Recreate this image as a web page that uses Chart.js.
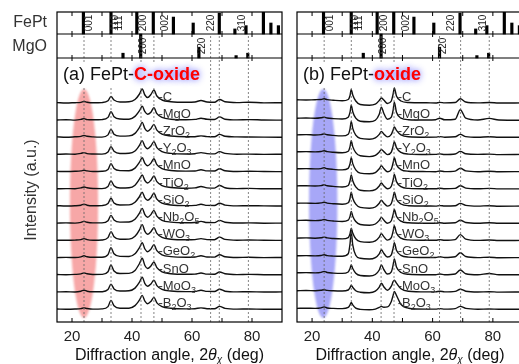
<!DOCTYPE html>
<html>
<head>
<meta charset="utf-8">
<script src="https://cdn.jsdelivr.net/npm/chart.js@4.4.1/dist/chart.umd.min.js"></script>
<style>
html, body { margin: 0; padding: 0; background: #fff; overflow: hidden; }
#wrap { position: relative; width: 519px; height: 364px; overflow: hidden; }
#chartA { position: absolute; left: 0; top: 0; }
#chartB { position: absolute; left: 284px; top: 0; }
</style>
</head>
<body>
<div id="wrap">
  <canvas id="chartA" width="300" height="364"></canvas>
  <canvas id="chartB" width="260" height="364"></canvas>
</div>
<script>
const FONT = '"Liberation Sans", Arial, Helvetica, sans-serif';

// samples, top trace first
const samples = ['C', 'MgO', 'ZrO2', 'Y2O3', 'MnO', 'TiO2', 'SiO2', 'Nb2O5', 'WO3', 'GeO2', 'SnO', 'MoO3', 'B2O3'];

// 2theta grid (deg) the traces were read on
const twoThetaA = [15, 18, 21, 23, 24, 25, 27, 30, 32, 33, 34, 36, 39, 41, 42.5, 43.4, 44.3, 45.2, 46.3, 47.3, 48.3, 50, 53, 58, 61, 63, 65, 67.5, 69.2, 71, 75, 79, 84, 90];
const twoThetaB = [15, 18, 21, 23, 24, 25, 27, 30, 32, 32.6, 33, 33.5, 34.5, 36, 39, 41, 42.3, 43, 43.8, 45, 46.3, 46.9, 47.3, 48, 49.5, 52, 58, 61, 62.4, 64, 67.5, 69.2, 71, 75, 78.8, 82, 90];

// (a) FePt-C-oxide, intensity above each trace baseline (a.u.)
const aC     = [0.4, 0.0, 0.3, 0.6, 1.5, 0.8, 0.2, 0.4, 2.2, 6.5, 3.0, 1.0, 1.2, 3.5, 9.0, 14.0, 8.0, 5.5, 8.5, 13.0, 7.0, 3.0, 1.3, 0.7, 1.0, 2.5, 1.0, 0.8, 3.5, 1.2, 0.4, 0.8, 0.1, 0.3];
const aMgO   = [0.2, 0.5, 0.1, 0.8, 1.6, 0.6, 0.4, 0.6, 2.8, 8.5, 3.5, 1.2, 1.0, 3.8, 9.5, 14.0, 8.5, 6.0, 8.0, 12.5, 6.5, 2.8, 1.0, 0.5, 0.8, 2.0, 0.9, 0.7, 3.3, 1.0, 0.3, 0.6, 0.2, 0.1];
const aZrO2  = [0.5, 0.2, 0.6, 1.0, 2.0, 1.1, 0.5, 0.3, 2.5, 8.0, 3.2, 1.3, 1.5, 4.0, 10.0, 15.0, 8.8, 6.2, 8.8, 13.0, 7.2, 3.2, 1.4, 0.6, 0.7, 1.5, 0.8, 0.6, 3.0, 1.1, 0.5, 0.4, 0.3, 0.2];
const aY2O3  = [0.3, 0.6, 0.4, 1.2, 2.0, 1.0, 0.6, 0.5, 2.6, 8.0, 3.4, 1.1, 1.3, 3.6, 9.4, 14.0, 8.2, 5.8, 8.6, 13.0, 7.0, 3.0, 1.2, 0.6, 0.9, 2.0, 1.0, 0.7, 3.0, 1.2, 0.4, 0.5, 0.2, 0.4];
const aMnO   = [0.4, 0.3, 0.5, 0.9, 1.5, 0.9, 0.3, 0.5, 2.4, 8.0, 3.3, 1.2, 1.1, 3.7, 9.6, 14.0, 8.4, 6.0, 8.7, 13.0, 7.1, 3.1, 1.3, 0.7, 0.8, 2.0, 0.9, 0.8, 3.0, 1.0, 0.3, 0.6, 0.3, 0.2];
const aTiO2  = [0.2, 0.4, 0.3, 1.1, 2.0, 1.2, 0.5, 0.4, 2.5, 8.0, 3.3, 1.0, 1.2, 3.8, 9.8, 14.0, 8.5, 6.0, 8.8, 13.0, 7.3, 3.3, 1.5, 0.8, 1.1, 2.5, 1.1, 0.9, 3.5, 1.3, 0.4, 0.6, 0.2, 0.3];
const aSiO2  = [0.5, 0.2, 0.4, 1.0, 2.0, 1.0, 0.4, 0.6, 2.6, 8.0, 3.2, 1.2, 1.3, 3.9, 9.7, 14.0, 8.3, 5.9, 8.5, 13.0, 7.0, 3.0, 1.2, 0.6, 0.8, 2.0, 0.8, 0.7, 3.0, 1.1, 0.3, 0.5, 0.3, 0.2];
const aNb2O5 = [0.3, 0.5, 0.3, 1.0, 2.0, 1.1, 0.5, 0.5, 2.7, 8.0, 3.4, 1.3, 1.4, 4.1, 10.2, 15.0, 8.7, 6.1, 8.8, 13.0, 7.2, 3.1, 1.3, 0.7, 0.9, 2.0, 0.9, 0.8, 3.0, 1.2, 0.4, 0.5, 0.2, 0.3];
const aWO3   = [0.4, 0.3, 0.5, 1.0, 2.0, 1.0, 0.4, 0.6, 3.0, 9.0, 3.8, 1.3, 1.5, 4.4, 10.8, 16.0, 9.2, 6.3, 8.9, 13.0, 7.3, 3.2, 1.4, 0.8, 1.0, 2.0, 1.0, 0.9, 3.5, 1.2, 0.4, 0.6, 0.3, 0.2];
const aGeO2  = [0.2, 0.4, 0.3, 0.9, 2.0, 1.1, 0.5, 0.5, 3.2, 10.0, 4.0, 1.4, 1.3, 4.0, 10.2, 15.0, 8.8, 6.1, 8.7, 13.0, 7.1, 3.0, 1.2, 0.6, 0.8, 2.0, 0.8, 0.7, 3.0, 1.1, 0.3, 0.5, 0.2, 0.3];
const aSnO   = [0.5, 0.3, 0.6, 1.1, 2.0, 1.2, 0.5, 0.6, 3.2, 10.0, 4.0, 1.5, 1.6, 4.6, 11.5, 16.7, 9.5, 6.5, 9.0, 13.0, 7.3, 3.1, 1.3, 0.7, 0.9, 2.0, 0.9, 0.8, 3.0, 1.2, 0.4, 0.6, 0.3, 0.2];
const aMoO3  = [0.3, 0.4, 0.2, 1.0, 2.0, 1.0, 0.4, 0.5, 2.6, 8.0, 3.3, 1.2, 1.4, 4.1, 10.0, 15.0, 8.6, 5.9, 8.2, 12.0, 6.6, 2.8, 1.2, 0.6, 0.8, 2.0, 0.8, 0.7, 3.0, 1.0, 0.3, 0.5, 0.2, 0.3];
const aB2O3  = [0.4, 0.2, 0.4, 0.8, 1.5, 0.9, 0.3, 0.5, 2.8, 9.0, 3.6, 1.2, 1.2, 3.8, 9.5, 14.0, 8.2, 5.7, 8.0, 12.0, 6.5, 2.7, 1.1, 0.5, 0.7, 1.5, 0.7, 0.6, 3.0, 1.0, 0.3, 0.4, 0.2, 0.2];

// (b) FePt-oxide
const bC     = [3.2, 3.0, 3.3, 3.5, 4.2, 3.4, 2.8, 2.2, 3.5, 7.5, 13.5, 8.0, 2.0, -1.5, -2.2, -1.2, 2.5, 5.0, 3.0, -0.5, 2.0, 9.0, 15.0, 7.0, 2.0, 0.5, 0.2, 0.0, 0.6, 0.1, 0.5, 4.2, 1.0, 0.1, 0.5, 0.0, 0.1];
const bMgO   = [2.0, 2.2, 1.9, 2.4, 3.0, 2.2, 1.6, 1.2, 3.0, 8.0, 15.0, 8.5, 2.0, -1.0, -1.5, 0.0, 6.0, 13.0, 7.0, 1.0, 3.0, 10.0, 18.0, 8.0, 2.0, 0.5, 0.2, 0.5, 2.0, 0.4, 1.0, 10.5, 2.0, 0.2, 1.8, 0.2, 0.0];
const bZrO2  = [2.5, 2.8, 2.4, 2.8, 3.5, 2.7, 2.0, 1.5, 3.2, 8.5, 16.0, 9.0, 2.2, -1.0, -1.8, -0.5, 3.0, 6.0, 3.5, 0.5, 3.0, 7.5, 10.5, 7.0, 2.5, 0.6, 0.2, 0.3, 0.8, 0.2, 0.6, 3.0, 0.8, 0.1, 0.6, 0.1, 0.2];
const bY2O3  = [2.8, 3.0, 2.7, 3.1, 3.8, 3.0, 2.3, 1.8, 3.3, 8.0, 14.0, 8.0, 2.0, -1.2, -2.0, -0.8, 2.6, 5.0, 3.0, 0.0, 2.5, 8.5, 13.0, 7.0, 2.2, 0.5, 0.1, 0.2, 0.7, 0.1, 0.6, 3.2, 0.8, 0.2, 0.5, 0.0, 0.2];
const bMnO   = [3.0, 3.2, 2.9, 3.2, 4.0, 3.1, 2.4, 1.9, 3.4, 8.0, 14.0, 8.2, 2.0, -1.3, -2.0, -0.8, 3.0, 6.0, 3.4, 0.0, 2.6, 9.0, 14.0, 7.2, 2.2, 0.6, 0.2, 0.1, 0.8, 0.2, 0.7, 3.6, 0.9, 0.1, 0.6, 0.1, 0.2];
const bTiO2  = [3.1, 3.3, 3.0, 3.4, 4.2, 3.2, 2.6, 2.0, 3.5, 8.2, 14.0, 8.3, 2.1, -1.2, -1.9, -0.7, 3.0, 6.0, 3.3, 0.2, 2.8, 9.0, 14.5, 7.4, 2.3, 0.6, 0.2, 0.2, 0.8, 0.2, 0.6, 3.2, 0.9, 0.2, 0.6, 0.1, 0.1];
const bSiO2  = [3.0, 3.1, 2.8, 3.3, 4.0, 3.1, 2.5, 2.0, 3.4, 8.0, 14.0, 8.0, 2.0, -1.2, -2.0, -0.8, 3.0, 6.0, 3.2, 0.1, 2.7, 9.0, 14.0, 7.0, 2.2, 0.5, 0.2, 0.1, 0.6, 0.2, 0.5, 2.8, 0.8, 0.1, 0.5, 0.0, 0.2];
const bNb2O5 = [2.9, 3.1, 2.8, 3.2, 3.9, 3.0, 2.4, 1.9, 3.2, 7.0, 12.0, 7.2, 1.9, -1.1, -1.8, -0.6, 3.0, 6.0, 3.3, 0.2, 2.7, 9.0, 14.0, 7.2, 2.2, 0.6, 0.2, 0.2, 0.7, 0.2, 0.6, 3.2, 0.9, 0.1, 0.6, 0.1, 0.2];
const bWO3   = [2.5, 2.7, 2.4, 2.8, 3.5, 2.7, 2.1, 1.7, 3.0, 7.0, 12.5, 7.5, 1.8, -1.0, -1.6, -0.3, 3.5, 7.0, 4.0, 0.5, 3.0, 9.5, 15.0, 7.5, 2.4, 0.7, 0.3, 0.3, 1.0, 0.3, 1.0, 6.0, 1.5, 0.2, 0.6, 0.1, 0.2];
const bGeO2  = [2.0, 2.2, 1.9, 2.3, 3.0, 2.2, 1.7, 1.5, 4.0, 14.0, 26.0, 13.0, 2.5, -0.5, -1.2, 0.2, 4.0, 8.0, 4.5, 0.8, 3.0, 9.5, 15.0, 7.5, 2.4, 0.7, 0.3, 0.3, 1.0, 0.3, 1.0, 5.0, 1.3, 0.2, 0.6, 0.1, 0.2];
const bSnO   = [2.2, 2.4, 2.1, 2.6, 3.6, 2.5, 1.9, 1.6, 3.0, 6.5, 10.0, 6.5, 1.8, -0.5, -1.0, 0.5, 5.0, 10.0, 5.5, 1.0, 3.2, 10.0, 16.0, 8.0, 2.5, 0.7, 0.3, 0.3, 1.0, 0.3, 1.0, 5.0, 1.3, 0.2, 1.5, 0.2, 0.2];
const bMoO3  = [1.5, 1.7, 1.5, 1.9, 2.5, 1.8, 1.4, 1.2, 2.2, 4.5, 7.0, 4.8, 1.5, 0.0, -0.5, 1.0, 5.0, 9.0, 5.5, 2.0, 6.0, 10.5, 12.0, 9.0, 3.5, 1.0, 0.3, 0.3, 1.0, 0.3, 0.8, 3.0, 1.0, 0.2, 0.5, 0.1, 0.2];
const bB2O3  = [1.0, 1.2, 1.0, 1.5, 2.5, 1.4, 1.0, 0.8, 2.0, 4.5, 7.0, 4.5, 1.2, 0.0, -0.4, 0.3, 2.0, 3.0, 2.2, 2.5, 8.0, 14.0, 18.0, 14.0, 5.0, 1.2, 0.3, 0.3, 0.8, 0.3, 0.8, 3.0, 1.0, 0.2, 0.4, 0.1, 0.1];

// reference patterns (2theta, relative intensity)
const fePtRef2t = [23.8, 33.0, 41.6, 47.1, 53.8, 60.4, 69.1, 74.3, 78.0, 83.8, 86.3, 88.8];
const fePtRefI  = [1.0, 1.0, 1.0, 1.0, 0.77, 0.5, 0.95, 0.23, 0.38, 1.0, 0.5, 0.38];
const mgoRef2t  = [37.0, 42.9, 62.3, 74.7, 78.6];
const mgoRefI   = [0.2, 1.0, 0.45, 0.1, 0.2];
const fePtHkl   = ['001', '110', '111', '200', '002', '220', '310'];
const fePtHkl2t = [25.9, 34.3, 35.8, 43.8, 51.2, 66.3, 76.7];
const mgoHkl    = ['200', '220'];
const mgoHkl2t  = [43.6, 63.5];

// dashed guide lines
const guidesA = [24, 33, 43, 47.3, 66.2, 69.1, 78.8];
const guidesB = [24, 33, 42.9, 47.2, 62.3, 69.3, 78.8];

// layout (y units are one pixel tall)
const Y_MAX = 310;
const ROW_MGO = 264;
const ROW_FEPT = 288;
const TOP_BASE = 219;
const STEP = 17.2;

function richText(ctx, str, x, y, size, color) {
    // digits become subscripts
    ctx.fillStyle = color;
    ctx.textBaseline = 'middle';
    ctx.textAlign = 'left';
    let cx = x;
    for (const ch of str) {
        const sub = /[0-9]/.test(ch);
        ctx.font = (sub ? Math.round(size * 0.72) : size) + 'px ' + FONT;
        ctx.fillText(ch, cx, sub ? y + size * 0.32 : y);
        cx += ctx.measureText(ch).width;
    }
}

function buildDatasets(grid, series, guides) {
    const ds = [];
    guides.forEach(p => ds.push({
        type: 'line', data: [{ x: p, y: 0 }, { x: p, y: ROW_FEPT }],
        borderColor: '#666', borderWidth: 0.8, borderDash: [2, 2], pointRadius: 0
    }));
    ds.push({
        type: 'bar', grouped: false, barThickness: 2.5, backgroundColor: '#000',
        data: fePtRef2t.map((t, i) => ({ x: t, y: [ROW_FEPT, ROW_FEPT + fePtRefI[i] * (Y_MAX - ROW_FEPT)] }))
    });
    ds.push({
        type: 'bar', grouped: false, barThickness: 2.5, backgroundColor: '#000',
        data: mgoRef2t.map((t, i) => ({ x: t, y: [ROW_MGO, ROW_MGO + mgoRefI[i] * (ROW_FEPT - ROW_MGO)] }))
    });
    series.forEach((vals, k) => {
        const base = TOP_BASE - k * STEP;
        ds.push({
            type: 'line', data: grid.map((t, i) => ({ x: t, y: base + vals[i] })),
            borderColor: '#111', borderWidth: 1.4, pointRadius: 0, cubicInterpolationMode: 'monotone'
        });
    });
    return ds;
}

function decoPlugin(cfg) {
    return {
        id: 'deco' + cfg.tag,
        beforeDatasetsDraw(chart) {
            const { ctx, scales: { x, y } } = chart;
            const cx = x.getPixelForValue(cfg.ellipseT);
            const rx = x.getPixelForValue(cfg.ellipseT + 4.7) - cx;
            const top = y.getPixelForValue(233), bot = y.getPixelForValue(4);
            ctx.save();
            ctx.fillStyle = cfg.ellipseColor;
            ctx.filter = 'blur(1px)';
            ctx.beginPath();
            ctx.ellipse(cx, (top + bot) / 2, rx, (bot - top) / 2, 0, 0, Math.PI * 2);
            ctx.fill();
            ctx.restore();
        },
        afterDatasetsDraw(chart) {
            const { ctx, chartArea: ca, scales: { x, y } } = chart;
            ctx.save();
            // frame and row separators
            ctx.strokeStyle = '#000';
            ctx.lineWidth = 1.2;
            ctx.strokeRect(ca.left, ca.top, ca.right - ca.left, ca.bottom - ca.top);
            const yM = y.getPixelForValue(ROW_MGO), yF = y.getPixelForValue(ROW_FEPT);
            ctx.beginPath();
            ctx.moveTo(ca.left, yM); ctx.lineTo(ca.right, yM);
            ctx.moveTo(ca.left, yF); ctx.lineTo(ca.right, yF);
            ctx.stroke();
            // inward tick marks
            ctx.lineWidth = 1;
            ctx.beginPath();
            x.ticks.forEach(t => {
                if (t.value <= x.min || t.value >= x.max) return;
                const px = x.getPixelForValue(t.value);
                ctx.moveTo(px, ca.bottom); ctx.lineTo(px, ca.bottom - 4);
                ctx.moveTo(px, yM - 3); ctx.lineTo(px, yM + 3);
                ctx.moveTo(px, yF - 3); ctx.lineTo(px, yF + 3);
                ctx.moveTo(px, ca.top); ctx.lineTo(px, ca.top + 4);
            });
            ctx.stroke();

            // hkl labels
            ctx.fillStyle = '#222';
            ctx.font = '10px ' + FONT;
            ctx.textAlign = 'center';
            ctx.textBaseline = 'middle';
            const rowF = y.getPixelForValue((ROW_FEPT + Y_MAX) / 2);
            const rowM = y.getPixelForValue((ROW_MGO + ROW_FEPT) / 2);
            fePtHkl.forEach((s, i) => {
                ctx.save(); ctx.translate(x.getPixelForValue(fePtHkl2t[i]), rowF); ctx.rotate(-Math.PI / 2);
                ctx.fillText(s, 0, 0); ctx.restore();
            });
            mgoHkl.forEach((s, i) => {
                ctx.save(); ctx.translate(x.getPixelForValue(mgoHkl2t[i]), rowM); ctx.rotate(-Math.PI / 2);
                ctx.fillText(s, 0, 0); ctx.restore();
            });

            // panel title with glowing red part
            ctx.font = '18px ' + FONT;
            const w1 = ctx.measureText(cfg.title1).width;
            ctx.font = 'bold 18px ' + FONT;
            const w2 = ctx.measureText(cfg.title2).width;
            const tx = ca.left + 6, ty = 75;
            ctx.fillStyle = '#fff';
            ctx.fillRect(tx - 2, ty - 11, w1 + w2 + 5, 22);
            ctx.textAlign = 'left';
            ctx.fillStyle = '#111';
            ctx.font = '18px ' + FONT;
            ctx.fillText(cfg.title1, tx, ty);
            ctx.save();
            ctx.shadowColor = 'rgba(70,70,255,0.9)';
            ctx.shadowBlur = 6;
            ctx.fillStyle = '#f00';
            ctx.font = 'bold 18px ' + FONT;
            ctx.fillText(cfg.title2, tx + w1, ty);
            ctx.restore();

            // sample labels
            samples.forEach((s, k) => {
                const base = TOP_BASE - k * STEP;
                richText(ctx, '-' + s, x.getPixelForValue(cfg.labelT), y.getPixelForValue(base + 6), 13, '#333');
            });

            // x axis title
            const parts = [
                { t: 'Diffraction angle, 2', f: '16px ' + FONT, dy: 0 },
                { t: 'θ', f: 'italic 16px ' + FONT, dy: 0 },
                { t: 'χ', f: 'italic 10px ' + FONT, dy: 4 },
                { t: ' (deg)', f: '16px ' + FONT, dy: 0 }
            ];
            let total = 0;
            parts.forEach(p => { ctx.font = p.f; total += ctx.measureText(p.t).width; });
            let ax = (ca.left + ca.right) / 2 - total / 2;
            ctx.fillStyle = '#111';
            parts.forEach(p => { ctx.font = p.f; ctx.fillText(p.t, ax, 356 + p.dy); ax += ctx.measureText(p.t).width; });

            if (cfg.leftLabels) {
                ctx.fillStyle = '#333';
                ctx.font = '16px ' + FONT;
                ctx.textAlign = 'right';
                ctx.fillText('FePt', ca.left - 10, rowF);
                ctx.fillText('MgO', ca.left - 10, rowM + 1);
                ctx.save();
                ctx.translate(ca.left - 25, (y.getPixelForValue(0) + y.getPixelForValue(ROW_MGO)) / 2);
                ctx.rotate(-Math.PI / 2);
                ctx.textAlign = 'center';
                ctx.fillText('Intensity (a.u.)', 0, 0);
                ctx.restore();
            }
            ctx.restore();
        }
    };
}

function makeChart(id, grid, series, guides, padding, cfg) {
    return new Chart(document.getElementById(id), {
        type: 'line',
        data: { datasets: buildDatasets(grid, series, guides) },
        options: {
            responsive: false,
            animation: false,
            events: [],
            layout: { padding: padding },
            plugins: { legend: { display: false }, tooltip: { enabled: false } },
            scales: {
                x: {
                    type: 'linear', min: 15, max: 90, offset: false,
                    grid: { display: false, drawTicks: false, offset: false },
                    border: { display: false },
                    ticks: {
                        stepSize: 10, includeBounds: false, autoSkip: false, maxRotation: 0,
                        padding: 6, color: '#222', font: { family: FONT, size: 15 },
                        callback: v => (v % 20 === 0 ? v : '')
                    },
                    afterFit: s => { s.height = 42; }
                },
                y: { type: 'linear', min: 0, max: Y_MAX, display: false }
            }
        },
        plugins: [decoPlugin(cfg)]
    });
}

makeChart('chartA', twoThetaA,
    [aC, aMgO, aZrO2, aY2O3, aMnO, aTiO2, aSiO2, aNb2O5, aWO3, aGeO2, aSnO, aMoO3, aB2O3],
    guidesA, { left: 57, right: 18, top: 12, bottom: 0 },
    { tag: 'A', ellipseT: 24, ellipseColor: 'rgba(240,80,80,0.5)', labelT: 48.8,
      title1: '(a) FePt-', title2: 'C-oxide', leftLabels: true });

makeChart('chartB', twoThetaB,
    [bC, bMgO, bZrO2, bY2O3, bMnO, bTiO2, bSiO2, bNb2O5, bWO3, bGeO2, bSnO, bMoO3, bB2O3],
    guidesB, { left: 13, right: 21, top: 12, bottom: 0 },
    { tag: 'B', ellipseT: 23.7, ellipseColor: 'rgba(80,80,240,0.5)', labelT: 48.4,
      title1: '(b) FePt-', title2: 'oxide', leftLabels: false });
</script>
</body>
</html>
